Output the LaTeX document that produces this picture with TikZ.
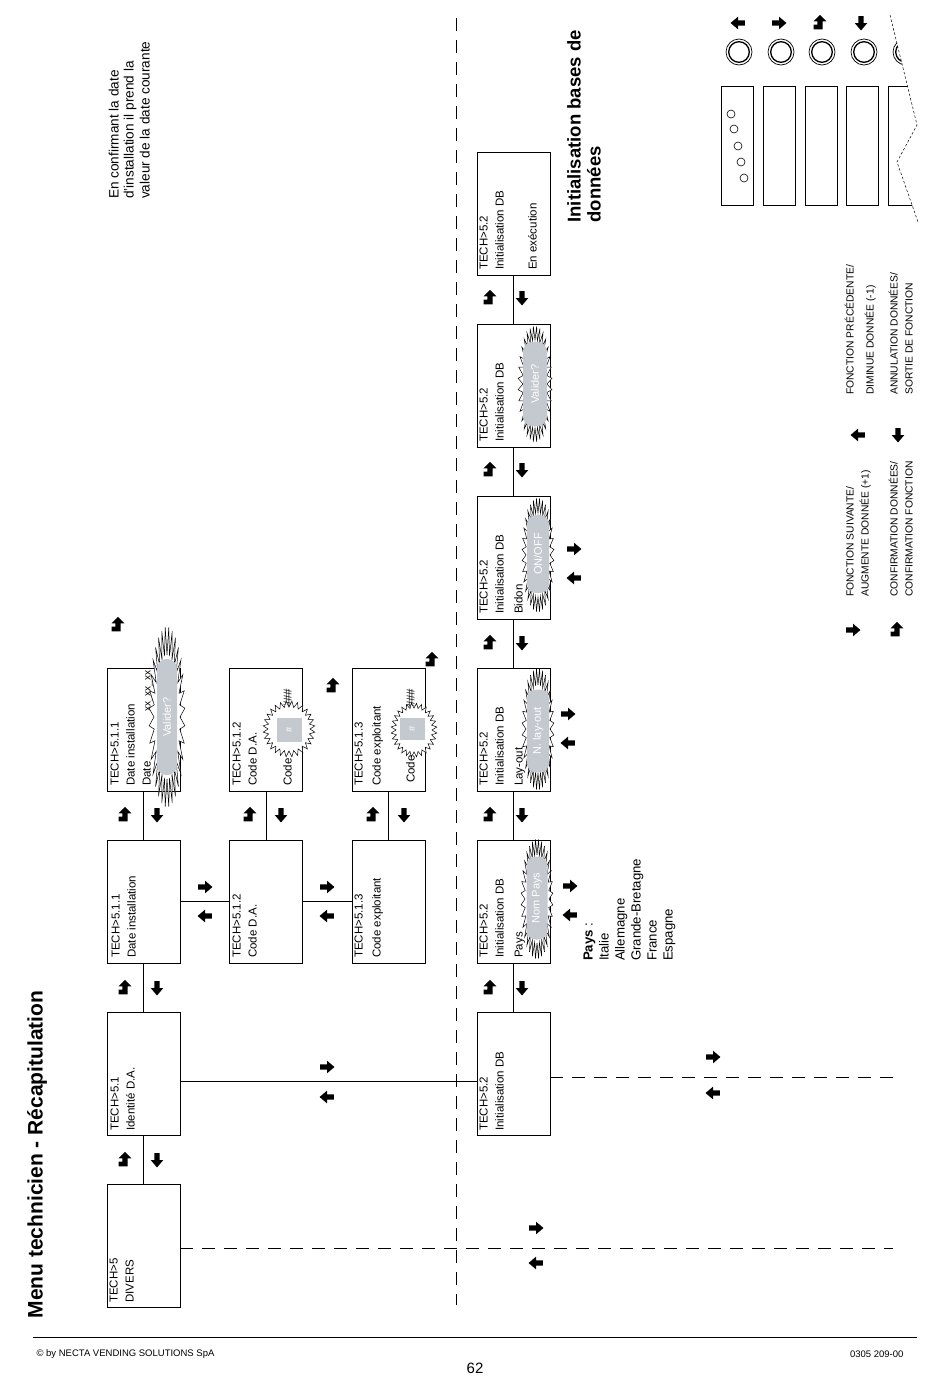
\documentclass[tikz,border=0pt]{standalone}
\usepackage{fontspec}
\setmainfont{Liberation Sans}
\usetikzlibrary{arrows.meta,calc}
\definecolor{pillgrey}{RGB}{196,201,207}
\newcommand\burstat[8]{%
  \draw[burstline] plot[variable=\t, samples at={0,...,#7}]
    ({#1+(#3+(#5-#3)*mod(\t,2))*cos(\t*#8)}, {#2+(#4+(#6-#4)*mod(\t,2))*sin(\t*#8)}) -- cycle;}
\tikzset{
  box/.style={draw, line width=0.9pt, minimum width=73pt, minimum height=123pt, inner sep=0pt},
  ln/.style={rotate=90, anchor=mid west, inner sep=0pt, font=\fontsize{11.5}{14}\selectfont},
  note/.style={rotate=90, anchor=mid west, inner sep=0pt, font=\fontsize{13.6}{15}\selectfont},
  plist/.style={rotate=90, anchor=mid west, inner sep=0pt, font=\fontsize{13.2}{16}\selectfont},
  leg/.style={rotate=90, anchor=mid west, inner sep=0pt, font=\fontsize{10.3}{12}\selectfont},
  conn/.style={line width=0.9pt},
  longdash/.style={line width=0.8pt, dash pattern=on 13pt off 9pt},
  burstline/.style={draw=black, fill=white, line width=0.5pt},
  pill/.style={rotate=90, fill=pillgrey, text=white, rounded corners=9.5pt, inner sep=0pt, font=\fontsize{11}{13}\selectfont},
  sq/.style={rotate=90, fill=pillgrey, text=white, inner sep=0pt, font=\fontsize{9}{11}\selectfont},
  every pic/.style={scale=1.15},
  rarr/.pic={\fill (-6,-2.2) -- (0,-2.2) -- (0,-5.5) -- (6.5,0) -- (0,5.5) -- (0,2.2) -- (-6,2.2) -- cycle;},
  larr/.pic={\fill (6,-2.2) -- (0,-2.2) -- (0,-5.5) -- (-6.5,0) -- (0,5.5) -- (0,2.2) -- (6,2.2) -- cycle;},
  darr/.pic={\fill (-2.2,-6) -- (2.2,-6) -- (2.2,0) -- (5.5,0) -- (0,6.5) -- (-5.5,0) -- (-2.2,0) -- cycle;},
  entr/.pic={\fill (0,-7) -- (5.5,-1.5) -- (2.2,-1.5) -- (2.2,5.5) -- (-5.5,5.5) -- (-5.5,1.5) -- (-2.2,1.5) -- (-2.2,-1.5) -- (-5.5,-1.5) -- cycle;},
}
\begin{document}
\begin{tikzpicture}[x=1pt,y=-1pt]
\useasboundingbox (0,0) rectangle (950,1379);

% title and footer
\node[rotate=90, anchor=mid west, font=\fontsize{21}{24}\selectfont\bfseries] (title) at (40,1322) {Menu technicien - Récapitulation};
\coordinate (fl) at (33,1337); \coordinate (fr) at (917,1337);
\draw[line width=0.8pt] (fl) -- (fr);
\node[anchor=west, font=\fontsize{9.5}{11}\selectfont] (copy) at (33,1354) {© by NECTA VENDING SOLUTIONS SpA};
\node[anchor=east, font=\fontsize{9.5}{11}\selectfont] (ref) at (907,1354) {0305 209-00};
\node[font=\fontsize{15}{17}\selectfont] (page) at (475,1368) {62};

% vertical dashed separator
\coordinate (vt) at (456,18); \coordinate (vb) at (456,1305);
\draw[longdash] (vt) -- (vb);

% boxes
\node[box] (d5) at (143.5,1245.5) {};
\node[box] (d51) at (143.5,1073.5) {};
\node[box] (d511) at (143.5,901.5) {};
\node[box] (d511b) at (143.5,729.5) {};
\node[box] (d512) at (266,901.5) {};
\node[box] (d512b) at (266,729.5) {};
\node[box] (d513) at (388.5,901.5) {};
\node[box] (d513b) at (388.5,729.5) {};
\node[box] (db1) at (513.5,1073.5) {};
\node[box] (db2) at (513.5,901.5) {};
\node[box] (db3) at (513.5,729.5) {};
\node[box] (db4) at (513.5,558) {};
\node[box] (db5) at (513.5,385.5) {};
\node[box] (db6) at (513.5,213.5) {};

% connectors
\draw[conn] (d5.north) -- (d51.south);
\draw[conn] (d51.north) -- (d511.south);
\draw[conn] (d511.north) -- (d511b.south);
\draw[conn] (d511.east) -- (d512.west);
\draw[conn] (d512.east) -- (d513.west);
\draw[conn] (d512.north) -- (d512b.south);
\draw[conn] (d513.north) -- (d513b.south);
\draw[conn] ([yshift=-7.5pt]d51.east) -- ([yshift=-7.5pt]db1.west);
\draw[conn] (db1.north) -- (db2.south);
\draw[conn] (db2.north) -- (db3.south);
\draw[conn] (db3.north) -- (db4.south);
\draw[conn] (db4.north) -- (db5.south);
\draw[conn] (db5.north) -- (db6.south);
\coordinate (e1) at (893,1248); \coordinate (e2) at (893,1077);
\draw[longdash] ([yshift=-2.5pt]d5.east) -- (e1);
\draw[longdash] ([yshift=-3.5pt]db1.east) -- (e2);

% box texts
\node[ln] (t1a) at (115,1303) {TECH>5};
\node[ln] (t1b) at (131,1303) {DIVERS};
\node[ln] (t2a) at (116,1131) {TECH>5.1};
\node[ln] (t2b) at (132,1131) {Identité D.A.};
\node[ln] (t3a) at (117,958) {TECH>5.1.1};
\node[ln] (t3b) at (133,958) {Date installation};
\node[ln] (t4a) at (116,786) {TECH>5.1.1};
\node[ln] (t4b) at (132,786) {Date installation};
\node[ln] (t4c) at (148,786) {Date};
\node[ln, font=\fontsize{10}{12}\selectfont] (t4d) at (148,712) {xx\_xx\_xx};
\node[ln] (t5a) at (238,958) {TECH>5.1.2};
\node[ln] (t5b) at (254,958) {Code D.A.};
\node[ln] (t6a) at (238,786) {TECH>5.1.2};
\node[ln] (t6b) at (254,786) {Code D.A.};
\node[ln] (t6c) at (289,786) {Code};
\node[ln] (t6d) at (289,708) {\#\#\#};
\node[ln] (t7a) at (360,958) {TECH>5.1.3};
\node[ln] (t7b) at (378,958) {Code exploitant};
\node[ln] (t8a) at (360,786) {TECH>5.1.3};
\node[ln] (t8b) at (378,786) {Code exploitant};
\node[ln] (t8c) at (412,783) {Code};
\node[ln] (t8d) at (412,708) {\#\#\#};
\node[ln] (u1a) at (485,1131) {TECH>5.2};
\node[ln] (u1b) at (501,1131) {Initialisation DB};
\node[ln] (u2a) at (485,958) {TECH>5.2};
\node[ln] (u2b) at (501,958) {Initialisation DB};
\node[ln] (u2c) at (520,958) {Pays};
\node[ln] (u3a) at (485,786) {TECH>5.2};
\node[ln] (u3b) at (501,786) {Initialisation DB};
\node[ln] (u3c) at (520,786) {Lay-out};
\node[ln] (u4a) at (485,614) {TECH>5.2};
\node[ln] (u4b) at (501,614) {Initialisation DB};
\node[ln] (u4c) at (520,614) {Bidon};
\node[ln] (u5a) at (485,442) {TECH>5.2};
\node[ln] (u5b) at (501,442) {Initialisation DB};
\node[ln] (u6a) at (485,270) {TECH>5.2};
\node[ln] (u6b) at (501,270) {Initialisation DB};
\node[ln] (u6c) at (534,270) {En exécution};

% bursts and blinking fields
\burstat{167}{717}{13}{62}{18}{90}{63}{5.625}
\node[pill, minimum width=116pt, minimum height=20pt] (p1) at (167,717) {Valider?};
\burstat{289}{729}{21}{22}{26}{28}{55}{6.4286}
\node[sq, minimum width=24pt, minimum height=25pt] (s1) at (289,730) {\#};
\burstat{414}{730}{18}{22}{23}{27}{55}{6.4286}
\node[sq, minimum width=22pt, minimum height=25pt] (s2) at (412,729) {\#};
\burstat{537}{899}{12}{44}{16}{60}{63}{5.625}
\node[pill, minimum width=83pt, minimum height=21pt] (p2) at (537,898) {Nom Pays};
\burstat{538}{729}{12}{44}{16}{61}{63}{5.625}
\node[pill, minimum width=83pt, minimum height=22pt] (p3) at (538,731) {N. lay-out};
\burstat{538}{555}{12}{42}{16}{57}{63}{5.625}
\node[pill, minimum width=78pt, minimum height=22pt] (p4) at (538,554) {ON/OFF};
\burstat{535}{384}{12}{44}{17}{58}{63}{5.625}
\node[pill, minimum width=84pt, minimum height=24pt] (p5) at (535,384) {Valider?};

% key icons along connectors
\pic at (125,1160) {entr}; \pic at (157,1160) {darr};
\pic at (125,988) {entr}; \pic at (157,988) {darr};
\pic at (125,815) {entr}; \pic at (157,815) {darr};
\pic at (118,625) {entr};
\pic at (205,887) {rarr}; \pic at (205,916) {larr};
\pic at (327,887) {rarr}; \pic at (327,916) {larr};
\pic at (250,815) {entr}; \pic at (281,815) {darr};
\pic at (333,686) {entr};
\pic at (373,815) {entr}; \pic at (404,815) {darr};
\pic at (432,660) {entr};
\pic at (327,1067) {rarr}; \pic at (327,1097) {larr};
\foreach \yy in {988,815,643,470,298} {\pic at (490,\yy) {entr}; \pic at (522,\yy) {darr};}
\pic at (570,886) {rarr}; \pic at (570,915) {larr};
\pic at (568,714) {rarr}; \pic at (568,743) {larr};
\pic at (574,549) {rarr}; \pic at (574,578) {larr};
\pic at (536,1228) {rarr}; \pic at (536,1263) {larr};
\pic at (713,1057) {rarr}; \pic at (713,1093) {larr};

% notes
\node[note] (n1) at (116,199) {En confirmant la date};
\node[note] (n2) at (131,199) {d'installation il prend la};
\node[note] (n3) at (147,199) {valeur de la date courante};
\node[rotate=90, anchor=mid west, font=\fontsize{18.5}{21}\selectfont\bfseries] (h1) at (578,226) {Initialisation bases de};
\node[rotate=90, anchor=mid west, font=\fontsize{18.5}{21}\selectfont\bfseries] (h2) at (598,226) {données};

% country list
\node[plist] (c0) at (590,961) {\textbf{Pays} :};
\node[plist] (c1) at (606,961) {Italie};
\node[plist] (c2) at (622,961) {Allemagne};
\node[plist] (c3) at (638,961) {Grande-Bretagne};
\node[plist] (c4) at (654,961) {France};
\node[plist] (c5) at (670,961) {Espagne};

% legend
\pic at (853,630) {rarr}; \pic at (897,630) {entr};
\pic at (858,435) {larr}; \pic at (898,435) {darr};
\node[leg] (l1) at (851,597) {FONCTION SUIVANTE/};
\node[leg] (l2) at (866,597) {AUGMENTE DONNÉE (+1)};
\node[leg] (l3) at (895,597) {CONFIRMATION DONNÉES/};
\node[leg] (l4) at (910,597) {CONFIRMATION FONCTION};
\node[leg] (l5) at (851,395) {FONCTION PRÉCÉDENTE/};
\node[leg] (l6) at (871,395) {DIMINUE DONNÉE (-1)};
\node[leg] (l7) at (895,395) {ANNULATION DONNÉES/};
\node[leg] (l8) at (910,395) {SORTIE DE FONCTION};

% keyboard sketch
\pic at (738,23) {larr}; \pic at (779,23) {rarr}; \pic at (820,23) {entr}; \pic at (861,23) {darr};
\foreach \cx in {739,781,822,864} {
  \draw[line width=0.7pt] (\cx,52) circle[radius=13];
  \draw[line width=1.3pt] (\cx,52) circle[radius=10.3];
}
\foreach \px in {721,763,805,846} {\draw[line width=0.8pt] (\px,86) rectangle ++(32,119);}
\foreach \cx/\cy in {731/114,734/129,738/146,741/162,744/178} {\draw[line width=0.6pt] (\cx,\cy) circle[radius=4];}
\begin{scope}
  \clip (870,0) -- (890,15) -- (917,125) -- (897,162) -- (918,222) -- (870,230) -- cycle;
  \draw[line width=0.7pt] (906,52) circle[radius=13];
  \draw[line width=1.3pt] (906,52) circle[radius=10.3];
  \draw[line width=0.8pt] (888,86) rectangle ++(40,119);
\end{scope}
\draw[line width=0.5pt, dash pattern=on 2.5pt off 2pt] (890,15) -- (917,125) -- (897,162) -- (918,222);
\end{tikzpicture}
\end{document}
